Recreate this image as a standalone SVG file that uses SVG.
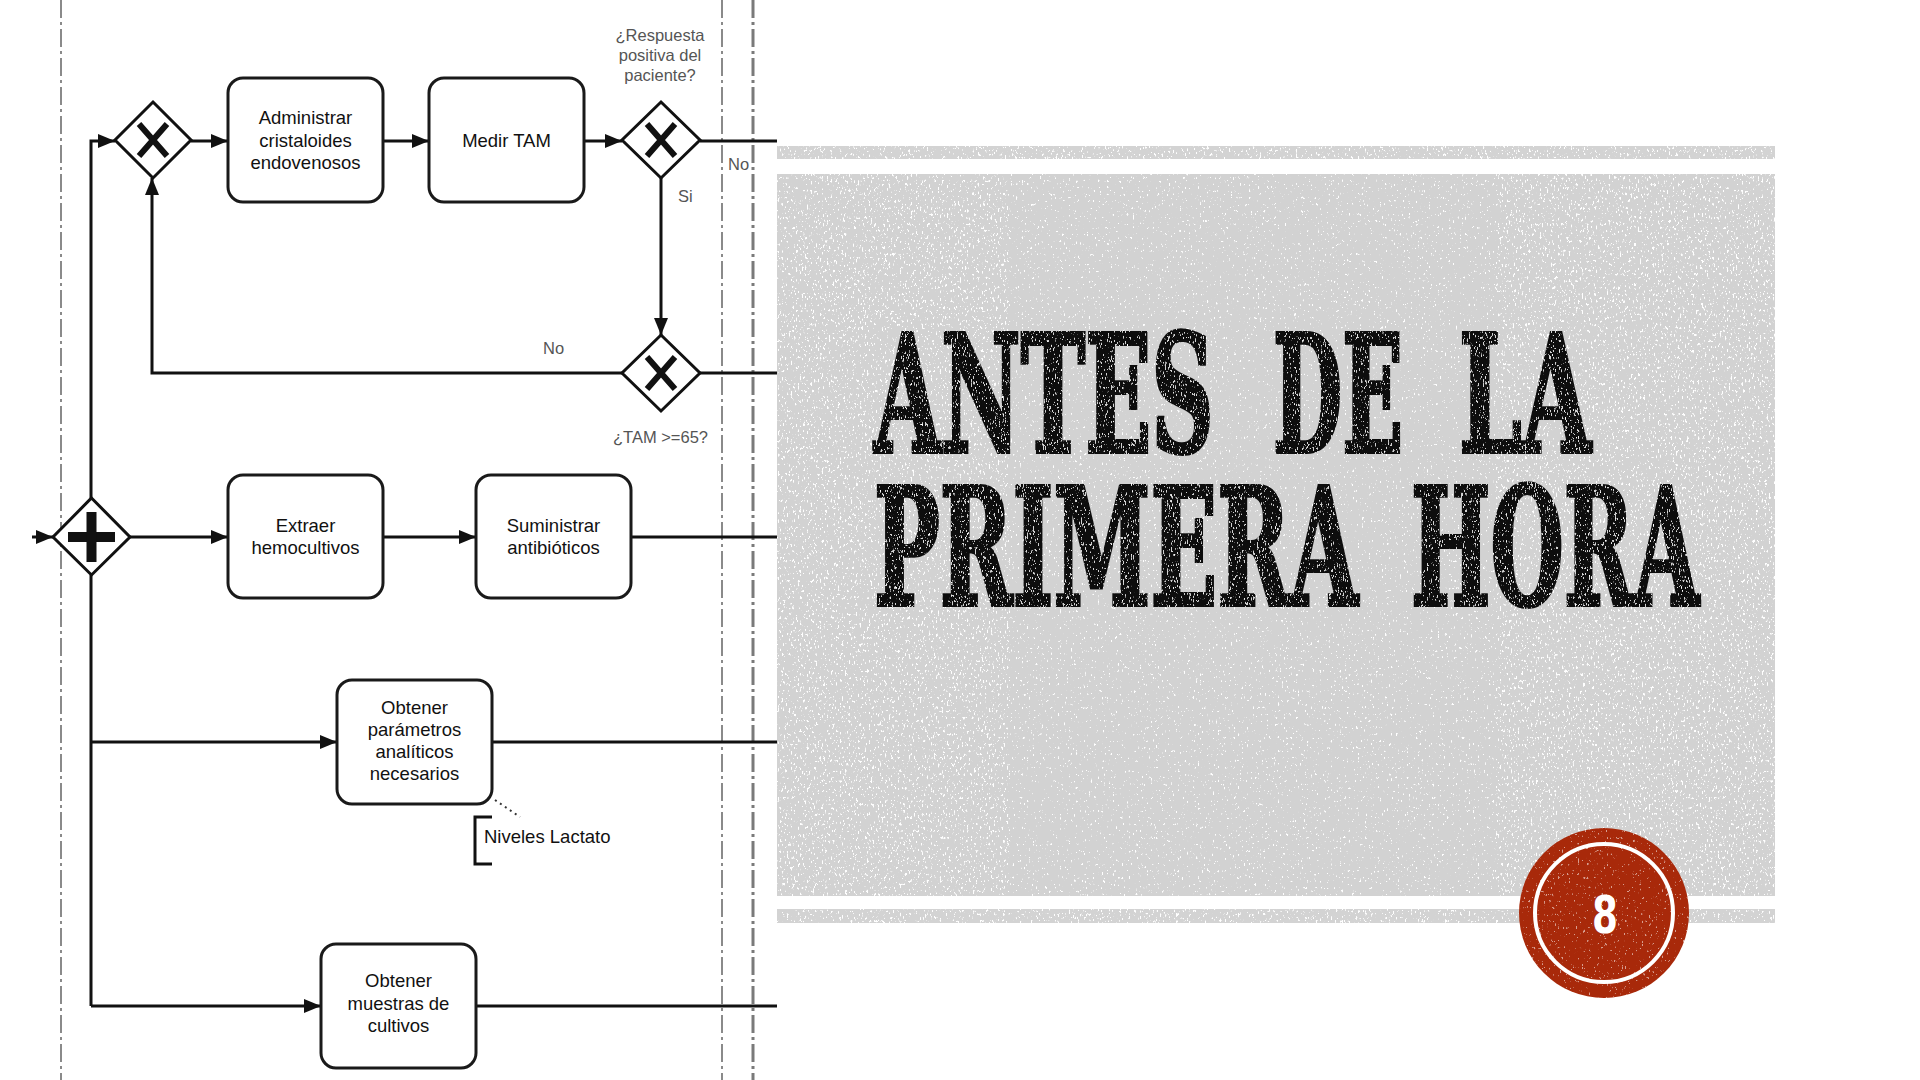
<svg xmlns="http://www.w3.org/2000/svg" width="1920" height="1080" viewBox="0 0 1920 1080">
<style>
.lane{fill:none;stroke:#8a8a8a;stroke-width:2;stroke-dasharray:18 4 3 4}
.lane2{fill:none;stroke:#7a7a7a;stroke-width:3;stroke-dasharray:18 4 3 4}
.task{fill:#fff;stroke:#1a1a1a;stroke-width:3}
.gw{fill:#fff;stroke:#111;stroke-width:3}
.xm{fill:none;stroke:#111;stroke-width:6}
.con{fill:none;stroke:#111;stroke-width:3}
.arr{marker-end:url(#ah)}
.t{font-family:"Liberation Sans",Arial,sans-serif;font-size:18.5px;fill:#111;text-anchor:middle}
.lbl{font-family:"Liberation Sans",Arial,sans-serif;font-size:16.5px;fill:#555}
.c{text-anchor:middle}
.title{font-family:"DejaVu Serif","Liberation Serif",serif;font-weight:bold;font-stretch:condensed;font-size:162px;fill:#111;stroke:#111;stroke-width:4}
</style>
<defs>
<marker id="ah" markerUnits="userSpaceOnUse" markerWidth="17" markerHeight="14" refX="17" refY="7" orient="auto">
<path d="M0,0 L17,7 L0,14 Z" fill="#111"/>
</marker>
<filter id="speck" x="0" y="0" width="1" height="1">
<feTurbulence type="fractalNoise" baseFrequency="0.55 0.3" numOctaves="2" seed="7"/>
<feColorMatrix type="matrix" values="0 0 0 0 1  0 0 0 0 1  0 0 0 0 1  13 0 0 0 -8.1"/>
</filter>
<filter id="speckLight" x="0" y="0" width="1" height="1">
<feTurbulence type="fractalNoise" baseFrequency="0.55 0.3" numOctaves="2" seed="11"/>
<feColorMatrix type="matrix" values="0 0 0 0 1  0 0 0 0 1  0 0 0 0 1  13 0 0 0 -8.9"/>
</filter>
<filter id="distress" x="-5%" y="-5%" width="110%" height="110%">
<feTurbulence type="fractalNoise" baseFrequency="0.9 0.3" numOctaves="2" seed="4" result="n"/>
<feColorMatrix in="n" type="matrix" values="0 0 0 0 0  0 0 0 0 0  0 0 0 0 0  -16 0 0 0 10.9" result="m"/>
<feComposite in="SourceGraphic" in2="m" operator="in"/>
</filter>
<clipPath id="circClip"><circle cx="1604" cy="913" r="85"/></clipPath>
</defs>
<rect width="1920" height="1080" fill="#fff"/>

<g id="lanes">
<line class="lane" x1="61" y1="0" x2="61" y2="1080"/>
<line class="lane" x1="722" y1="0" x2="722" y2="1080"/>
<line class="lane2" x1="753" y1="0" x2="753" y2="1080"/>
</g>

<g id="connectors">
<path class="con arr" d="M32,537 L53,537"/>
<path class="con arr" d="M91,498 L91,141 L115,141"/>
<path class="con arr" d="M191,141 L228,141"/>
<path class="con arr" d="M383,141 L429,141"/>
<path class="con arr" d="M584,141 L622,141"/>
<path class="con" d="M700,141 L777,141"/>
<path class="con arr" d="M661,178 L661,335"/>
<path class="con arr" d="M622,373 L152,373 L152,178"/>
<path class="con" d="M700,373 L777,373"/>
<path class="con arr" d="M130,537 L228,537"/>
<path class="con arr" d="M383,537 L476,537"/>
<path class="con" d="M631,537 L777,537"/>
<path class="con" d="M91,575 L91,1006"/>
<path class="con arr" d="M91,742 L337,742"/>
<path class="con" d="M492,742 L777,742"/>
<path class="con arr" d="M91,1006 L321,1006"/>
<path class="con" d="M476,1006 L777,1006"/>
<path d="M495,800 L520,817" fill="none" stroke="#333" stroke-width="2" stroke-dasharray="2 4"/>
</g>

<g id="gw-start">
<polygon class="gw" points="91.5,498 130,537 91.5,575 53,537"/>
<rect x="68" y="532" width="47" height="10" fill="#111"/>
<rect x="86.5" y="512" width="10" height="50" fill="#111"/>
</g>

<g id="gw-loop">
<polygon class="gw" points="153,102 191,140 153,178 115,140"/>
<path class="xm" d="M139,124 L167,156 M167,124 L139,156"/>
</g>

<g id="task-cristaloides">
<rect class="task" x="228" y="78" width="155" height="124" rx="15"/>
<text class="t" x="305.5" y="124">Administrar</text>
<text class="t" x="305.5" y="147">cristaloides</text>
<text class="t" x="305.5" y="169">endovenosos</text>
</g>

<g id="task-medir">
<rect class="task" x="429" y="78" width="155" height="124" rx="15"/>
<text class="t" x="506.5" y="147">Medir TAM</text>
</g>

<g id="gw-respuesta">
<polygon class="gw" points="661,102 700,140 661,178 622,140"/>
<path class="xm" d="M647,124 L675,156 M675,124 L647,156"/>
<text class="lbl c" x="660" y="41">¿Respuesta</text>
<text class="lbl c" x="660" y="61">positiva del</text>
<text class="lbl c" x="660" y="81">paciente?</text>
<text class="lbl" x="728" y="170">No</text>
<text class="lbl" x="678" y="202">Si</text>
</g>

<g id="gw-tam">
<polygon class="gw" points="661,335 700,373 661,411 622,373"/>
<path class="xm" d="M647,357 L675,389 M675,357 L647,389"/>
<text class="lbl" x="543" y="354">No</text>
<text class="lbl c" x="660.5" y="443">¿TAM &gt;=65?</text>
</g>

<g id="task-hemocultivos">
<rect class="task" x="228" y="475" width="155" height="123" rx="15"/>
<text class="t" x="305.5" y="531.5">Extraer</text>
<text class="t" x="305.5" y="553.5">hemocultivos</text>
</g>

<g id="task-antibioticos">
<rect class="task" x="476" y="475" width="155" height="123" rx="15"/>
<text class="t" x="553.5" y="531.5">Suministrar</text>
<text class="t" x="553.5" y="553.5">antibióticos</text>
</g>

<g id="task-parametros">
<rect class="task" x="337" y="680" width="155" height="124" rx="15"/>
<text class="t" x="414.5" y="713.5">Obtener</text>
<text class="t" x="414.5" y="736">parámetros</text>
<text class="t" x="414.5" y="758">analíticos</text>
<text class="t" x="414.5" y="780">necesarios</text>
</g>

<g id="annotation-lactato">
<path d="M492,817 L475,817 L475,864 L492,864" fill="none" stroke="#111" stroke-width="3"/>
<text class="t" x="484" y="843" style="text-anchor:start">Niveles Lactato</text>
</g>

<g id="task-muestras">
<rect class="task" x="321" y="944" width="155" height="124" rx="15"/>
<text class="t" x="398.5" y="987">Obtener</text>
<text class="t" x="398.5" y="1010">muestras de</text>
<text class="t" x="398.5" y="1032">cultivos</text>
</g>

<g id="title-panel">
<rect x="777" y="146" width="998" height="13" fill="#d3d3d3"/>
<rect x="777" y="146" width="998" height="13" fill="#fff" filter="url(#speck)"/>
<rect x="777" y="174" width="998" height="722" fill="#d2d2d2"/>
<rect x="777" y="174" width="232" height="722" fill="#fff" filter="url(#speck)"/>
<rect x="1009" y="174" width="487" height="722" fill="#fff" filter="url(#speckLight)"/>
<rect x="1496" y="174" width="279" height="722" fill="#fff" filter="url(#speck)"/>
<rect x="777" y="909" width="998" height="14" fill="#d3d3d3"/>
<rect x="777" y="909" width="998" height="14" fill="#fff" filter="url(#speck)"/>
<g transform="scale(0.6,1)" filter="url(#distress)">
<text class="title" x="1456.67" y="452" textLength="566.67" lengthAdjust="spacingAndGlyphs">ANTES</text>
<text class="title" x="2121.67" y="452" textLength="216.67" lengthAdjust="spacingAndGlyphs">DE</text>
<text class="title" x="2431.67" y="452" textLength="220" lengthAdjust="spacingAndGlyphs">LA</text>
<text class="title" x="1456.67" y="605" textLength="806.67" lengthAdjust="spacingAndGlyphs">PRIMERA</text>
<text class="title" x="2351.67" y="605" textLength="480" lengthAdjust="spacingAndGlyphs">HORA</text>
</g>
</g>

<g id="page-number">
<circle cx="1604" cy="913" r="85" fill="#a8290a"/>
<g clip-path="url(#circClip)">
<rect x="1519" y="828" width="170" height="170" fill="#fff" opacity="0.55" filter="url(#speckLight)"/>
</g>
<circle cx="1604" cy="913" r="69" fill="none" stroke="#fff" stroke-width="4"/>
<text x="1592" y="933" textLength="26" lengthAdjust="spacingAndGlyphs" style="font-family:'DejaVu Sans',sans-serif;font-weight:bold;font-stretch:condensed;font-size:52px;fill:#fff">8</text>
</g>
</svg>
